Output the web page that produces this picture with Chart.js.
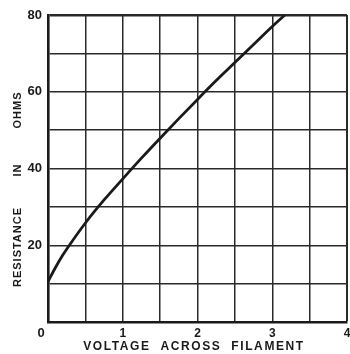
<!DOCTYPE html>
<html>
<head>
<meta charset="utf-8">
<script src="https://cdn.jsdelivr.net/npm/chart.js@4.4.1/dist/chart.umd.min.js"></script>
<style>
  html, body { margin: 0; padding: 0; background: #fff; }
  #wrap { width: 350px; height: 354px; }
</style>
</head>
<body>
<div id="wrap"><canvas id="chartCanvas" width="350" height="354"></canvas></div>
<script>
// filament resistance against applied voltage
var volts = [0, 0.1, 0.2, 0.3, 0.5, 0.75, 1.0, 1.25, 1.5, 1.75, 2.0, 2.25, 2.5, 2.75, 3.0, 3.17];
var ohms  = [10.5, 14.2, 17.5, 20.4, 25.8, 31.8, 37.3, 42.7, 47.9, 53, 58, 62.9, 67.6, 72.3, 77, 80];

var xTickLabels = ['1', '2', '3', '4'];
var yTickLabels = ['20', '40', '60', '80'];
var xTitle = 'VOLTAGE  ACROSS  FILAMENT';
var yTitleWords = ['RESISTANCE', 'IN', 'OHMS'];

var ink = '#1a1a1a';
var fontFamily = '"Liberation Sans", Arial, sans-serif';

var points = [];
for (var i = 0; i < volts.length; i++) {
	points.push({ x: volts[i], y: ohms[i] });
}

// axis titles and the shared "0" at the corner
var titlePlugin = {
	id: 'axisText',
	afterDraw: function(chart) {
		var ctx = chart.ctx;
		var xs = chart.scales.x;
		var ys = chart.scales.y;
		ctx.save();
		ctx.fillStyle = ink;
		ctx.textAlign = 'center';
		ctx.textBaseline = 'middle';

		ctx.font = 'bold 13px ' + fontFamily;
		ctx.fillText('0', xs.getPixelForValue(0) - 7, ys.bottom + 11);

		ctx.font = 'bold 12px ' + fontFamily;
		ctx.letterSpacing = '1.6px';
		ctx.fillText(xTitle, 194, 347);

		ctx.translate(18, 0);
		ctx.rotate(-Math.PI / 2);
		ctx.font = 'bold 11px ' + fontFamily;
		ctx.letterSpacing = '1px';
		ctx.fillText(yTitleWords[0], -247, 0);
		ctx.fillText(yTitleWords[1], -170, 0);
		ctx.fillText(yTitleWords[2], -110, 0);
		ctx.restore();
	}
};

var ctx = document.getElementById('chartCanvas');
var chart = new Chart(ctx, {
	type: 'line',
	data: {
		datasets: [
			{
				data: points,
				borderColor: ink,
				borderWidth: 2.8,
				pointRadius: 0,
				fill: false,
				cubicInterpolationMode: 'monotone'
			}
		]
	},
	options: {
		responsive: false,
		animation: false,
		events: [],
		layout: { padding: { top: 15, right: 3, left: 0, bottom: 0 } },
		plugins: {
			legend: { display: false },
			tooltip: { enabled: false }
		},
		scales: {
			x: {
				type: 'linear',
				min: 0,
				max: 4,
				afterBuildTicks: function(scale) {
					scale.ticks = [];
					for (var v = 0; v <= 8; v++) scale.ticks.push({ value: v / 2 });
				},
				afterFit: function(scale) {
					scale.height = 32;
					scale.paddingLeft = 0;
					scale.paddingRight = 0;
				},
				grid: {
					color: '#2a2a2a',
					lineWidth: function(c) { return c.tick && c.tick.value === 4 ? 2 : 1.5; },
					drawTicks: false
				},
				border: { color: ink, width: 2.6 },
				ticks: {
					autoSkip: false,
					maxRotation: 0,
					padding: 4,
					color: ink,
					font: { family: fontFamily, weight: 'bold', size: 12 },
					callback: function(v) {
						return (v >= 1 && Number.isInteger(v)) ? xTickLabels[v - 1] : '';
					}
				}
			},
			y: {
				type: 'linear',
				min: 0,
				max: 80,
				afterBuildTicks: function(scale) {
					scale.ticks = [];
					for (var v = 0; v <= 80; v += 10) scale.ticks.push({ value: v });
				},
				afterFit: function(scale) {
					scale.width = 48;
					scale.paddingTop = 0;
					scale.paddingBottom = 0;
				},
				grid: {
					color: '#2a2a2a',
					lineWidth: function(c) { return c.tick && c.tick.value === 80 ? 2.6 : 1.5; },
					drawTicks: false
				},
				border: { color: ink, width: 2.6 },
				ticks: {
					autoSkip: false,
					padding: 6,
					color: ink,
					font: { family: fontFamily, weight: 'bold', size: 13 },
					callback: function(v) {
						return (v > 0 && v % 20 === 0) ? yTickLabels[v / 20 - 1] : '';
					}
				}
			}
		}
	},
	plugins: [titlePlugin]
});
</script>
</body>
</html>
